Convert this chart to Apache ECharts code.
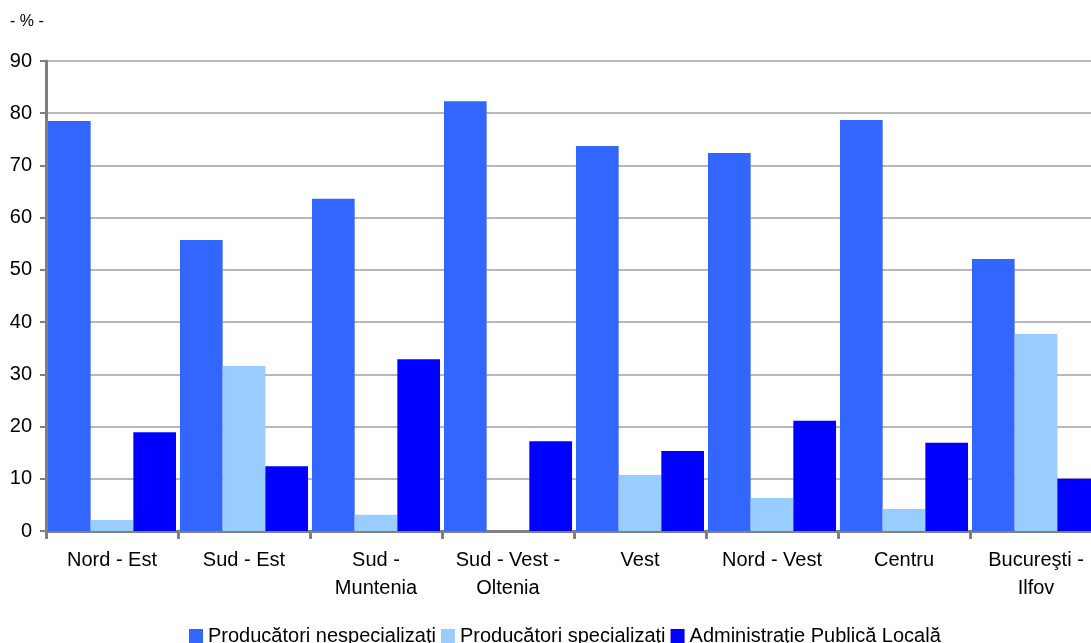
<!DOCTYPE html>
<html>
<head>
<meta charset="utf-8">
<script src="https://cdn.jsdelivr.net/npm/echarts@6/dist/echarts.min.js"></script>
<style>
html,body{margin:0;padding:0;background:#fff;overflow:hidden;width:1091px;height:643px;}
#c{width:1102px;height:643px;}
</style>
</head>
<body>
<div id="c"></div>
<script>
const categories = ['Nord - Est', 'Sud - Est', 'Sud -\nMuntenia', 'Sud - Vest -\nOltenia', 'Vest', 'Nord - Vest', 'Centru', 'Bucureşti -\nIlfov'];
const seriesNames = ['Producători nespecializaţi', 'Producători specializaţi', 'Administraţie Publică Locală'];
const nespecializati = [78.5, 55.7, 63.6, 82.3, 73.7, 72.4, 78.7, 52.1];
const specializati = [2.1, 31.6, 3.1, 0, 10.7, 6.3, 4.2, 37.7];
const administratie = [18.9, 12.4, 32.9, 17.2, 15.3, 21.1, 16.9, 10.0];
const yTicks = [0, 10, 20, 30, 40, 50, 60, 70, 80, 90];
const colors = ['#3366FF', '#99CCFF', '#0000FF'];

const chart = echarts.init(document.getElementById('c'));
const font = 'Liberation Sans, Arial, sans-serif';
chart.setOption({
  animation: false,
  textStyle: {fontFamily: font},
  color: colors,
  graphic: [{type: 'text', left: 10, top: 14, style: {text: '- % -', fontSize: 16, fontFamily: font, fill: '#000'}}],
  grid: {left: 46, right: 0, top: 61, bottom: 112, containLabel: false, outerBoundsMode: 'none'},
  legend: {
    left: 184, top: 621, itemWidth: 14, itemHeight: 14, icon: 'rect', itemGap: 5,
    textStyle: {fontSize: 20, color: '#000', fontFamily: font},
    data: seriesNames
  },
  xAxis: {
    type: 'category', data: categories,
    axisLine: {lineStyle: {color: '#808080', width: 3}},
    axisTick: {show: true, length: 8, lineStyle: {color: '#808080', width: 3}},
    axisLabel: {fontSize: 20, color: '#000', margin: 15, lineHeight: 28, interval: 0, fontFamily: font}
  },
  yAxis: {
    type: 'value', min: yTicks[0], max: yTicks[yTicks.length - 1], interval: 10,
    axisLine: {show: true, lineStyle: {color: '#808080', width: 3}},
    axisTick: {show: true, length: 6, lineStyle: {color: '#808080', width: 2}},
    axisLabel: {fontSize: 20, color: '#000', margin: 14, fontFamily: font},
    splitLine: {lineStyle: {color: '#A0A0A0', width: 1.5}}
  },
  series: [
    {name: seriesNames[0], type: 'bar', data: nespecializati, barGap: '0%', barCategoryGap: '3%'},
    {name: seriesNames[1], type: 'bar', data: specializati, barGap: '0%', barCategoryGap: '3%'},
    {name: seriesNames[2], type: 'bar', data: administratie, barGap: '0%', barCategoryGap: '3%'}
  ]
});
</script>
</body>
</html>
